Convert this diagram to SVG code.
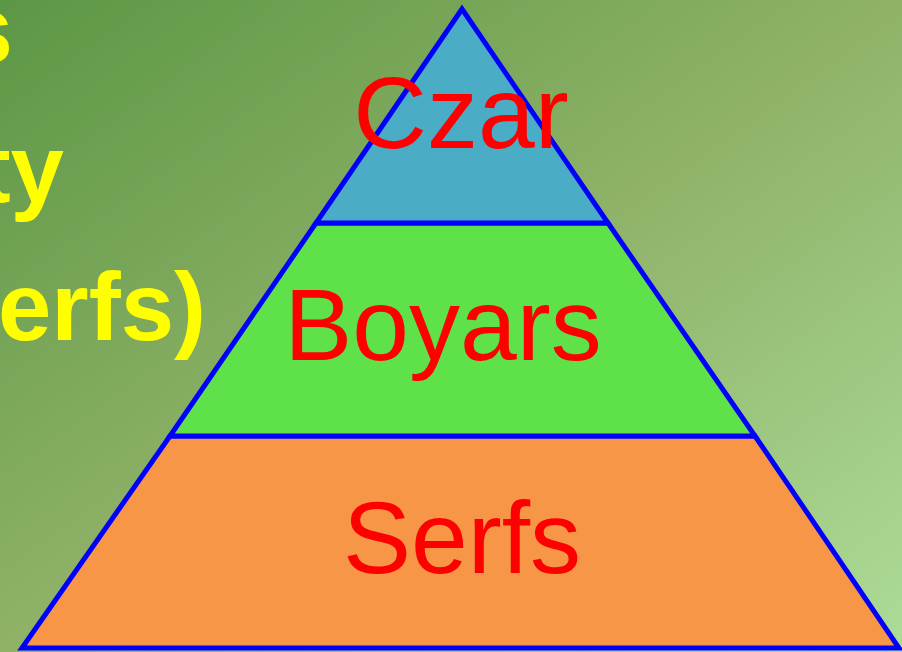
<svg xmlns="http://www.w3.org/2000/svg" width="902" height="652" viewBox="0 0 902 652">
  <defs>
    <linearGradient id="bg" x1="0" y1="0" x2="1" y2="1">
      <stop offset="0" stop-color="#5C9746"/>
      <stop offset="0.5" stop-color="#8FB268"/>
      <stop offset="1" stop-color="#ACDC98"/>
    </linearGradient>
  </defs>
  <style>
    .tier { stroke: #0000FF; stroke-width: 5; stroke-linejoin: miter; }
    .label { font-family: "Liberation Sans", Arial, sans-serif; font-size: 102px; fill: #FF0000; text-anchor: middle; }
    .title { font-family: "Liberation Sans", Arial, sans-serif; font-size: 96px; font-weight: bold; fill: #FFFF00; text-anchor: end; }
  </style>
  <rect x="0" y="0" width="902" height="652" fill="url(#bg)"/>
  <g id="title">
    <text class="title" x="13" y="63">s</text>
    <text class="title" x="64" y="202">ty</text>
    <text class="title" x="206" y="340">erfs)</text>
  </g>
  <g id="serfs">
    <polygon class="tier" fill="#F79646" points="170,436 755,436 899,648 22,648"/>
    <text class="label" x="462" y="573">Serfs</text>
  </g>
  <g id="boyars">
    <polygon class="tier" fill="#5FE14A" points="316,223 608,223 755,436 170,436"/>
    <text class="label" x="443" y="360">Boyars</text>
  </g>
  <g id="czar">
    <polygon class="tier" fill="#4BACC6" points="462,9 608,223 316,223"/>
    <text class="label" x="461" y="148">Czar</text>
  </g>
  <g id="connectors"/>
</svg>
